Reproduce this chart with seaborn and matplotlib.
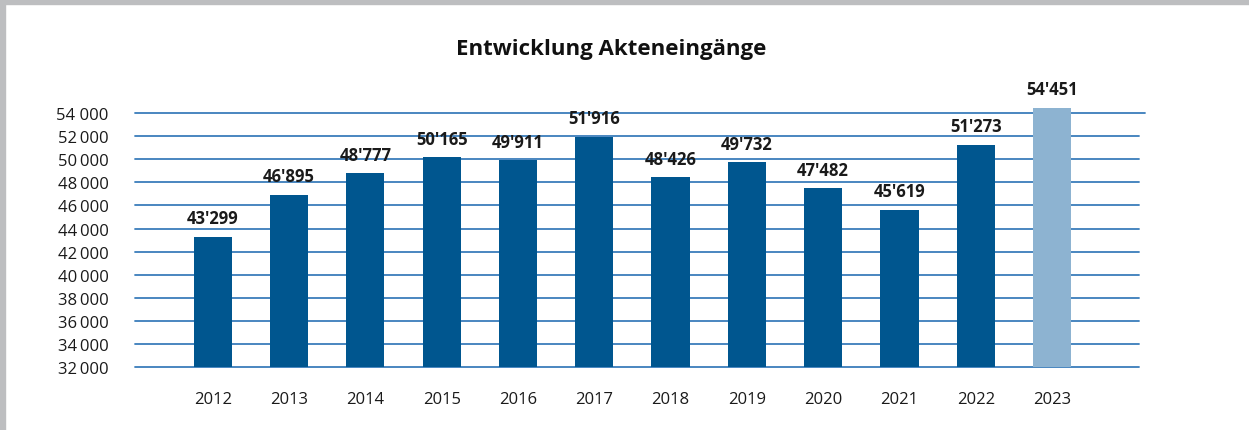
import matplotlib
matplotlib.use("Agg")
from matplotlib import pyplot as plt
from matplotlib.patches import Rectangle
import seaborn as sns
import pandas as pd

years = ["2012", "2013", "2014", "2015", "2016", "2017",
         "2018", "2019", "2020", "2021", "2022", "2023"]
values = [43299, 46895, 48777, 50165, 49911, 51916,
          48426, 49732, 47482, 45619, 51273, 54451]
y_ticks = [32000, 34000, 36000, 38000, 40000, 42000, 44000,
           46000, 48000, 50000, 52000, 54000]
title = "Entwicklung Akteneingänge"

DARK, LIGHT, GRID, BORDER = "#00568f", "#8db3d1", "#3a7dbb", "#bdbec0"
TXT = "#1a1a1a"

sns.set_theme(style="white")
plt.rcParams["font.family"] = ["Open Sans", "DejaVu Sans"]

df = pd.DataFrame({"year": years, "value": values})
palette = [DARK] * (len(years) - 1) + [LIGHT]

fig = plt.figure(figsize=(12.49, 4.31), dpi=100)
ax = fig.add_axes([0.108, 0.146, 0.804, 0.643])

# gridlines behind the bars
for t in y_ticks:
    ax.axhline(t, color=GRID, lw=1.3, zorder=0,
               xmax=1.0 if t < 54000 else 1.006, clip_on=False)

sns.barplot(data=df, x="year", y="value", hue="year", palette=palette,
            legend=False, width=0.5, saturation=1, linewidth=0, ax=ax, zorder=2)

for i, v in enumerate(values):
    ax.annotate(f"{v:,}".replace(",", "'"), (i, v), xytext=(0, 7),
                textcoords="offset points", ha="center", va="bottom",
                fontsize=12, fontweight="bold", color=TXT)

ax.set_ylim(32000, 56000)
ax.set_xlim(-1.02, 12.14)
ax.set_yticks(y_ticks)
ax.set_yticklabels(["54 000" if t == 54000 else f"{t // 1000}\u2009000" for t in y_ticks])
ax.tick_params(axis="y", length=0, pad=19, labelsize=12, labelcolor=TXT)
ax.tick_params(axis="x", length=0, pad=17, labelsize=12, labelcolor=TXT)
ax.set_xlabel("")
ax.set_ylabel("")
for s in ax.spines.values():
    s.set_visible(False)

fig.text(0.489, 0.884, title, ha="center", va="center",
         fontsize=16, fontweight="bold", color="#111111")

# grey frame at the top and left edge
fig.patches.append(Rectangle((0, 1 - 5 / 431), 1, 5 / 431, transform=fig.transFigure,
                             color=BORDER, zorder=5))
fig.patches.append(Rectangle((0, 0), 5 / 1249, 1, transform=fig.transFigure,
                             color=BORDER, zorder=5))

fig.savefig("out.png", dpi=100)
